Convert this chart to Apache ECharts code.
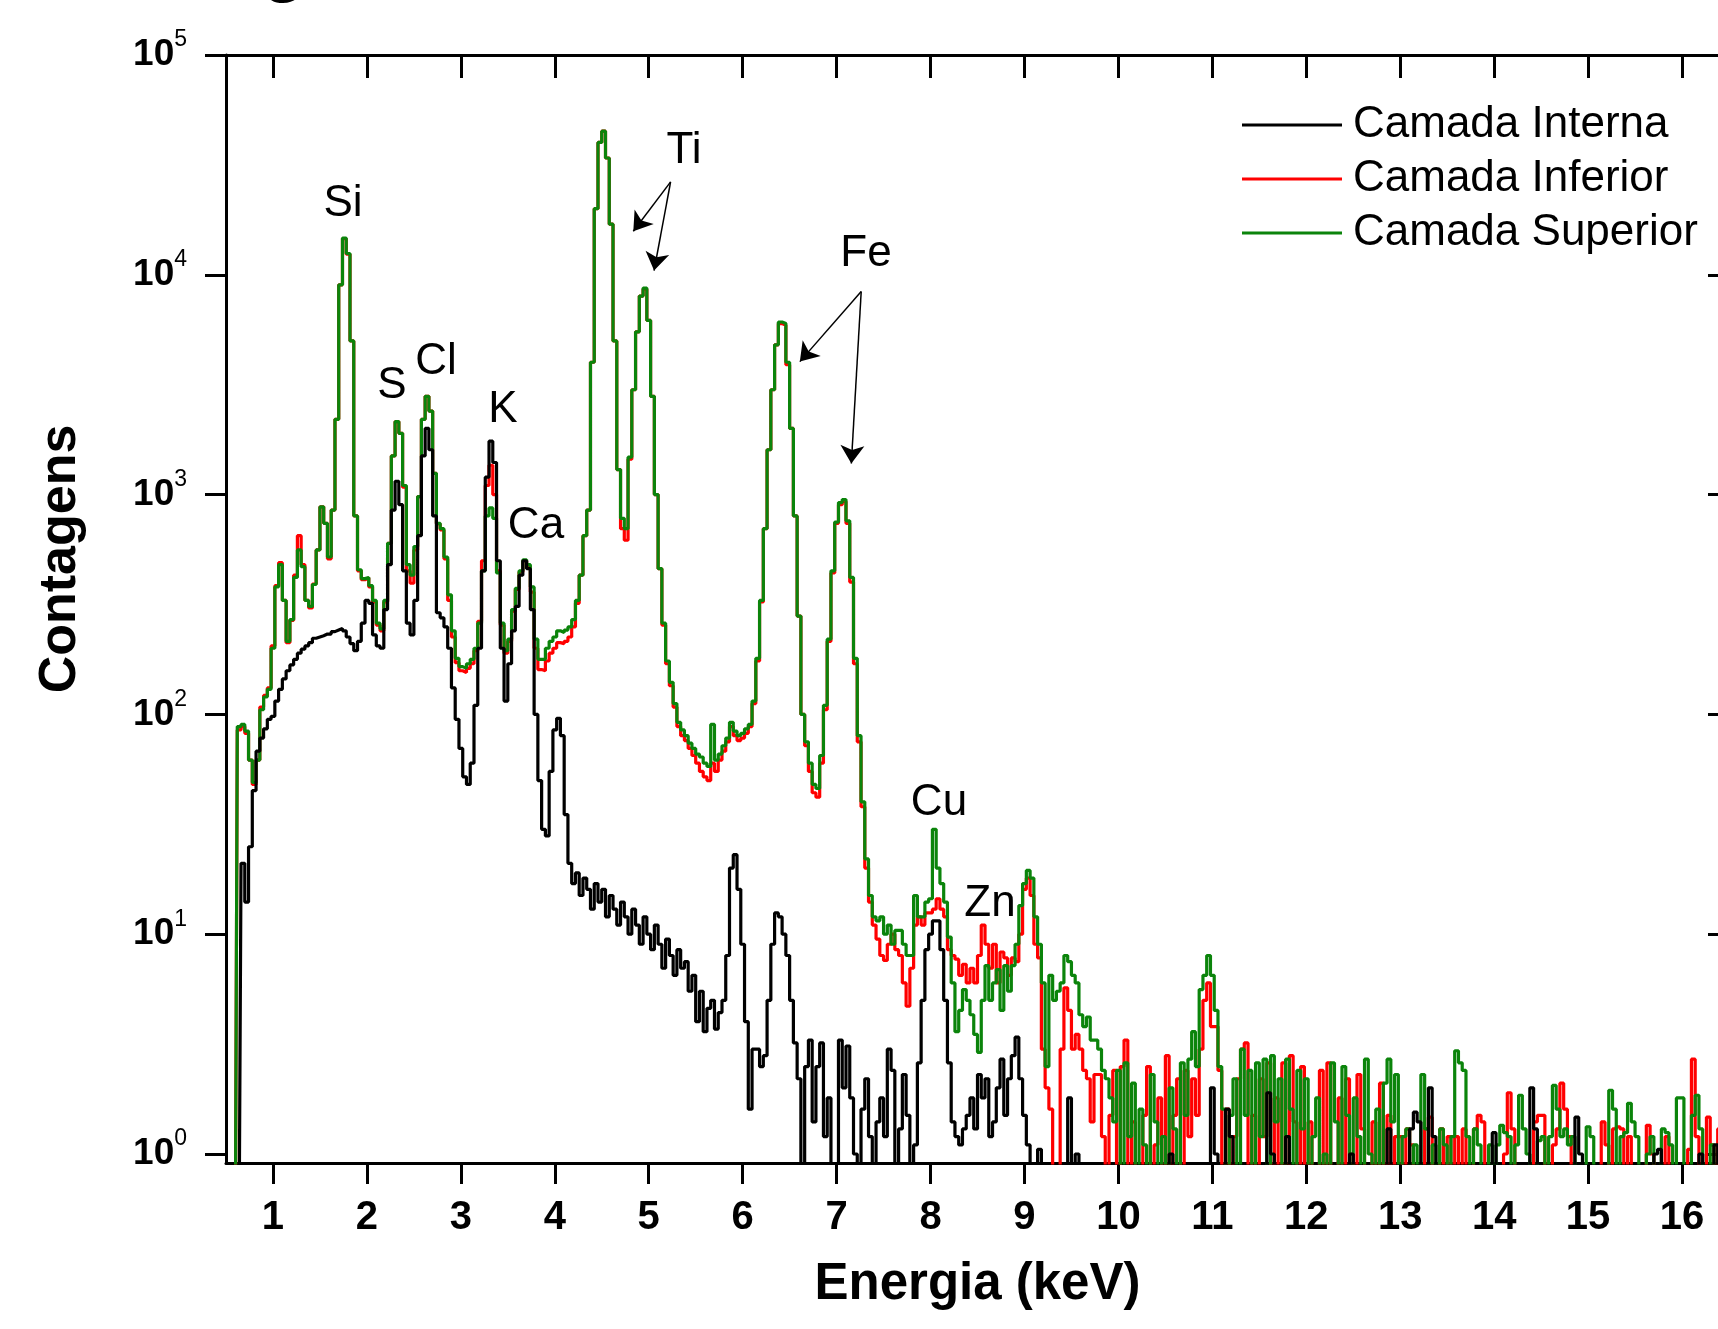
<!DOCTYPE html>
<html><head><meta charset="utf-8">
<script src="https://cdn.jsdelivr.net/npm/echarts@6/dist/echarts.min.js"></script>
<style>html,body{margin:0;padding:0;background:#fff}#chart{width:1718px;height:1329px}</style>
</head><body><div id="chart"></div>
<script>
// Channel energies (keV)
const energy = [
0.56,0.60,0.64,0.68,0.72,0.76,0.80,0.84,0.88,0.92,0.96,
1.00,1.04,1.08,1.12,1.16,1.20,1.24,1.28,1.32,1.36,1.40,1.44,1.48,1.52,1.56,1.60,1.64,1.68,1.72,1.76,1.80,1.84,1.88,1.92,1.96,
2.00,2.04,2.08,2.12,2.16,2.20,2.24,2.28,2.32,2.36,2.40,2.44,2.48,2.52,2.56,2.60,2.64,2.68,2.72,2.76,2.80,2.84,2.88,2.92,2.96,
3.00,3.04,3.08,3.12,3.16,3.20,3.24,3.28,3.32,3.36,3.40,3.44,3.48,3.52,3.56,3.60,3.64,3.68,3.72,3.76,3.80,3.84,3.88,3.92,3.96,
4.00,4.04,4.08,4.12,4.16,4.20,4.24,4.28,4.32,4.36,4.40,4.44,4.48,4.52,4.56,4.60,4.64,4.68,4.72,4.76,4.80,4.84,4.88,4.92,4.96,
5.00,5.04,5.08,5.12,5.16,5.20,5.24,5.28,5.32,5.36,5.40,5.44,5.48,5.52,5.56,5.60,5.64,5.68,5.72,5.76,5.80,5.84,5.88,5.92,5.96,
6.00,6.04,6.08,6.12,6.16,6.20,6.24,6.28,6.32,6.36,6.40,6.44,6.48,6.52,6.56,6.60,6.64,6.68,6.72,6.76,6.80,6.84,6.88,6.92,6.96,
7.00,7.04,7.08,7.12,7.16,7.20,7.24,7.28,7.32,7.36,7.40,7.44,7.48,7.52,7.56,7.60,7.64,7.68,7.72,7.76,7.80,7.84,7.88,7.92,7.96,
8.00,8.04,8.08,8.12,8.16,8.20,8.24,8.28,8.32,8.36,8.40,8.44,8.48,8.52,8.56,8.60,8.64,8.68,8.72,8.76,8.80,8.84,8.88,8.92,8.96,
9.00,9.04,9.08,9.12,9.16,9.20,9.24,9.28,9.32,9.36,9.40,9.44,9.48,9.52,9.56,9.60,9.64,9.68,9.72,9.76,9.80,9.84,9.88,9.92,9.96,
10.00,10.04,10.08,10.12,10.16,10.20,10.24,10.28,10.32,10.36,10.40,10.44,10.48,10.52,10.56,10.60,10.64,10.68,10.72,10.76,10.80,10.84,10.88,10.92,10.96,
11.00,11.04,11.08,11.12,11.16,11.20,11.24,11.28,11.32,11.36,11.40,11.44,11.48,11.52,11.56,11.60,11.64,11.68,11.72,11.76,11.80,11.84,11.88,11.92,11.96,
12.00,12.04,12.08,12.12,12.16,12.20,12.24,12.28,12.32,12.36,12.40,12.44,12.48,12.52,12.56,12.60,12.64,12.68,12.72,12.76,12.80,12.84,12.88,12.92,12.96,
13.00,13.04,13.08,13.12,13.16,13.20,13.24,13.28,13.32,13.36,13.40,13.44,13.48,13.52,13.56,13.60,13.64,13.68,13.72,13.76,13.80,13.84,13.88,13.92,13.96,
14.00,14.04,14.08,14.12,14.16,14.20,14.24,14.28,14.32,14.36,14.40,14.44,14.48,14.52,14.56,14.60,14.64,14.68,14.72,14.76,14.80,14.84,14.88,14.92,14.96,
15.00,15.04,15.08,15.12,15.16,15.20,15.24,15.28,15.32,15.36,15.40,15.44,15.48,15.52,15.56,15.60,15.64,15.68,15.72,15.76,15.80,15.84,15.88,15.92,15.96,
16.00,16.04,16.08,16.12,16.16,16.20,16.24,16.28,16.32,16.36,16.40,16.44,16.48
];
// Counts; 0.5 marks an empty channel (zero counts, drawn below the axis floor)
const interna = [
0.5,0.5,0.5,21,14,25,45,68,78,86,95,
98,115,130,145,158,168,178,190,198,205,212,222,225,228,232,232,238,242,246,240,225,210,195,215,260,
330,320,230,205,200,300,480,850,1150,900,450,260,230,330,650,1500,2000,1600,800,290,275,250,200,132,95,
70,52,48,60,110,200,450,1200,1750,1400,500,200,115,170,240,310,430,500,460,300,100,50,30,28,55,
85,96,80,35,21,17,19,15,18,16,13,17,14,16,12,15,13,11,14,12,10,13,11,9,12,
10,8.5,11,9,7,9.5,8,6.5,8.5,7,7.5,5.5,6.5,4,5.5,3.6,4.6,5,3.7,4.4,5,8,20,23,16,
9,4,1.6,3,3,2.5,2.8,5,9,12.5,12,10,8,5,3.2,2.2,0.5,2.5,3.3,1.4,2.5,3.2,1.2,1.8,0.5,
0.5,3.3,2,3.1,1.8,1,0.5,1.6,2.2,1.2,0.5,1.4,1.8,1.2,3,2.4,0.5,1.3,2.3,1.5,0.5,1.1,2.6,5,8.5,
10,11.5,11.5,8.5,5,2.6,1.4,1.2,1.1,1.3,1.5,1.8,1.3,2.3,1.8,2.2,1.2,1.4,2.0,2.7,1.5,2.2,2.8,3.4,2.2,
1.5,1.1,0.5,0.5,1.05,0.5,0.5,0.5,0.5,0.5,0.5,0.5,1.8,0.5,1.0,0.5,0.5,0.5,0.5,0.5,0.5,0.5,0.5,0.5,0.5,
0.5,0.5,0.5,0.5,0.5,0.5,0.5,0.5,0.5,0.5,0.5,0.5,0.5,0.5,1.0,0.5,0.5,0.5,0.5,0.5,0.5,0.5,0.5,0.5,0.5,
2.0,1.0,0.5,0.5,1.6,1.2,0.5,0.5,0.5,0.5,0.5,0.5,0.5,0.5,0.5,1.9,1.0,0.5,0.5,0.5,1.2,0.5,0.5,0.5,0.5,
0.5,0.5,0.5,0.5,0.5,0.5,0.5,0.5,0.5,0.5,0.5,0.5,1.0,0.5,0.5,0.5,0.5,0.5,0.5,0.5,0.5,0.5,1.3,0.5,0.5,
0.5,0.5,0.5,1.3,1.55,1.4,0.5,0.5,2.0,1.2,0.5,0.5,0.5,0.5,0.5,0.5,0.5,0.5,0.5,0.5,0.5,0.5,0.5,0.5,0.5,
1.25,0.5,0.5,0.5,0.5,0.5,0.5,0.5,0.5,0.5,2.0,1.3,0.5,0.5,0.5,0.5,0.5,0.5,0.5,0.5,0.5,0.5,1.47,1.0,0.5,
0.5,0.5,0.5,0.5,0.5,0.5,0.5,0.5,0.5,0.5,0.5,0.5,0.5,0.5,0.5,0.5,0.5,0.5,1.0,1.05,0.5,0.5,0.5,0.5,0.5,
0.5,0.5,0.5,0.5,0.5,1.0,0.5,0.5,0.5,1.1,0.5,0.5,0.5
];
const inferior = [
0.5,0.5,85,88,82,62,48,62,108,122,132,
205,385,490,330,212,268,430,650,480,330,305,392,560,880,740,510,850,2200,9000,14600,12400,5000,800,450,410,
418,380,325,255,240,325,600,1500,2150,1900,1080,450,395,560,980,2200,2800,2400,1250,735,690,510,330,225,172,
158,155,162,170,195,265,500,1100,1360,1000,450,255,190,215,295,370,445,500,470,360,200,160,158,175,190,
200,212,210,215,225,250,320,430,650,850,4000,20000,40000,45000,34000,17000,5000,1300,700,620,1450,3000,5500,8000,8600,
6200,2800,1000,460,255,170,135,108,88,80,76,70,65,60,55,52,50,60,55,62,68,75,88,80,76,
78,82,88,112,175,325,700,1600,3000,4800,6000,5900,3900,2000,800,280,100,72,55,44,42,60,105,215,440,
740,900,930,740,400,170,75,38,20,14,11,9.5,8,7.6,9,10,8.5,8,6,4.7,7,11,12,11,12.5,
12.5,13,14.5,13,12,8.5,8,7.7,6.5,7.3,6,7,6,8,11,9,7,9,6,8.3,7.8,6.5,7.8,7.5,10,
16,18,15,9,7.8,3,2,1.6,0.5,0.5,3,5.7,4.5,3,3.5,3,2.4,2.2,1.4,2.3,2.3,1.2,0.5,1.5,2.4,
0.5,2.5,3.3,0.5,1.4,0.5,0.5,1.5,2.5,0.5,1.1,1.8,0.5,2.8,0.5,1.5,2.2,0.5,2.4,1.2,2.2,1.5,3,5,6,
3.8,3.8,2.4,0.5,1.6,0.5,1.2,2.2,3.0,3.2,0.5,1.5,0.5,2.2,1.2,2.6,0.5,1.8,0.5,2.6,0.5,2.8,1.4,0.5,2.5,
0.5,1.4,0.5,0.5,2.4,0.5,2.6,0.5,0.5,1.8,0.5,2.2,1.0,0.5,2.3,1.3,0.5,0.5,1.4,0.5,2.1,0.5,1.5,0.5,1.2,
1.2,0.5,1.3,1.1,0.5,0.5,0.5,1.3,1.47,0.5,0.5,1.3,0.5,1.2,0.5,1.2,0.5,1.3,0.5,0.5,1.3,1.5,1.4,0.5,0.5,
0.5,0.5,0.5,1.0,1.9,1.3,0.5,0.5,0.5,0.5,0.5,1.4,1.5,1.5,0.5,0.5,1.1,1.3,2.1,1.6,1.2,0.5,0.5,0.5,0.5,
0.5,0.5,0.5,0.5,1.4,1.1,0.5,1.3,1.33,1.3,0.5,1.2,0.5,0.5,0.5,0.5,1.35,1.0,0.5,0.5,0.5,1.2,0.5,0.5,0.5,
0.5,0.5,1.05,2.7,1.2,0.5,0.5,1.47,1.1,0.5,1.3,0.5,1.2
];
const superior = [
0.5,0.5,88,90,84,62,49,62,105,120,130,
200,380,480,330,215,270,420,560,470,330,310,390,560,880,740,520,850,2200,9000,14700,12500,5000,800,455,415,
420,385,330,260,245,330,600,1500,2150,1900,1100,480,430,580,980,2200,2800,2400,1250,740,700,520,350,240,180,
165,162,170,178,200,260,450,800,870,780,440,260,195,220,300,375,450,505,480,380,220,178,178,200,215,
225,240,236,242,250,270,330,430,650,850,4000,20000,40000,45000,34000,17000,5000,1300,780,700,1480,3000,5500,8000,8700,
6200,2800,1000,460,260,175,140,112,92,85,80,74,70,66,64,60,58,90,62,66,72,78,92,84,80,
82,86,90,115,180,330,700,1600,3000,4800,6100,6000,4000,2000,800,280,100,75,60,48,46,65,110,220,450,
750,920,950,760,420,180,80,40,22,15,12,11.5,12,10,11,9,10.4,10.4,9,8,8,15,12,12,14,
14.5,30,20,17,14,9.7,6,3.6,4.5,5.6,5,4.3,3.5,2.9,5,7.2,5,6,6.9,4.5,7.2,5.5,7.2,9,13.5,
17,19.5,18,12,9,6,2.5,6.5,5,5.5,6,8,7.5,6.5,6,4.3,3.8,4.2,3.3,3.3,3,2.4,2.2,1.8,1.4,
2.4,0.5,2.6,1.2,2.1,0.5,1.6,1.1,0.5,2.3,1.4,0.5,1.2,0.5,2.0,1.3,0.5,2.6,1.5,2.7,3.6,2.5,5.6,6.5,8,
6.5,4.5,2.5,1.6,0.5,1.5,2.2,0.5,3.0,1.5,2.4,0.5,2.6,1.2,2.7,0.5,2.8,1.4,2.2,0.5,2.7,1.6,0.5,2.4,1.3,
2.2,0.5,1.2,1.8,0.5,1.0,0.5,2.6,1.4,0.5,2.5,1.5,0.5,1.8,1.2,0.5,2.7,1.0,0.5,1.6,0.5,2.1,2.7,1.4,2.3,
0.5,1.2,1.3,0.5,1.1,0.5,2.3,1.3,0.5,1.1,0.5,1.3,1.1,0.5,1.2,2.95,2.6,2.4,1.2,0.5,1.3,1.1,0.5,0.5,1.1,
0.5,1.1,1.35,1.25,1.2,0.5,1.1,1.85,1.3,1.0,0.5,0.5,1.15,1.2,0.5,1.2,2.05,1.6,1.2,1.3,1.1,1.2,0.5,0.5,0.5,
1.33,1.2,0.5,0.5,0.5,0.5,1.95,1.6,0.5,1.2,1.25,1.7,1.4,1.2,0.5,0.5,1.0,1.2,0.5,0.5,1.3,1.25,1.1,0.5,1.8,
1.8,0.5,0.5,1.5,1.85,1.3,0.5,0.5,1.1,0.5,0.5,1.2,0.5
];
const seriesNames = ['Camada Interna','Camada Inferior','Camada Superior'];
const xTicks = [1,2,3,4,5,6,7,8,9,10,11,12,13,14,15,16];
const yTicks = [1,10,100,1000,10000,100000];
// Peak annotations (energy keV, counts)
const peakNames  = ['Si','S','Cl','K','Ca','Ti','Fe','Cu','Zn'];
const peakEnergy = [1.745,2.267,2.735,3.449,3.80,5.375,7.313,8.09,8.633];
const peakCounts = [21000,3120,4010,2427,720,36560,12450,39.5,13.7];
const arrowFrom = [[5.233,26470],[5.233,26470],[7.262,8395],[7.262,8395]];
const arrowTo   = [[4.836,15790],[5.057,10450],[6.609,4027],[7.157,1385]];

const FONT = '"Liberation Sans", Arial, sans-serif';
const pairs = ys => energy.map((e, i) => [e, ys[i]]);
const lineSeries = (name, ys, color, z) => ({
  name, type: 'line', data: pairs(ys), step: 'middle', symbol: 'none', showSymbol: false,
  clip: true, z, lineStyle: { color, width: 3.2 }, itemStyle: { color },
  emphasis: { disabled: true }
});
const axisLineStyle = { color: '#000', width: 3 };

const chart = echarts.init(document.getElementById('chart'), null, { renderer: 'canvas' });
chart.setOption({
  animation: false,
  backgroundColor: '#fff',
  grid: { left: 226, right: -11, top: 55, bottom: 166, containLabel: false, outerBoundsMode: 'none' },
  legend: {
    data: seriesNames, orient: 'vertical', left: 1237, top: 98,
    icon: 'rect', itemWidth: 100, itemHeight: 3, itemGap: 10, selectedMode: false,
    textStyle: { fontSize: 44, lineHeight: 44, color: '#000', fontFamily: FONT, padding: [0, 0, 0, 6] }
  },
  graphic: [{
    type: 'text', silent: true,
    style: { x: 284, y: -68, text: 'g', textAlign: 'center', textVerticalAlign: 'top', font: 'bold 72px "Liberation Sans", Arial, sans-serif', fill: '#000' }
  }],
  xAxis: [{
    type: 'value', min: 0.5, max: 16.5, position: 'bottom',
    axisLine: { show: true, onZero: false, lineStyle: axisLineStyle },
    axisTick: { show: true, inside: false, length: 21, lineStyle: axisLineStyle, customValues: xTicks },
    axisLabel: { show: true, margin: 35, customValues: xTicks, fontSize: 40, lineHeight: 40, fontWeight: 'bold', color: '#000', fontFamily: FONT },
    splitLine: { show: false },
    name: 'Energia (keV)', nameLocation: 'middle', nameGap: 96,
    nameTextStyle: { fontSize: 51, lineHeight: 51, fontWeight: 'bold', color: '#000', fontFamily: FONT }
  }, {
    type: 'value', min: 0.5, max: 16.5, position: 'top',
    axisLine: { show: true, onZero: false, lineStyle: axisLineStyle },
    axisTick: { show: true, inside: true, length: 23, lineStyle: axisLineStyle, customValues: xTicks },
    axisLabel: { show: false }, splitLine: { show: false }
  }],
  yAxis: [{
    type: 'log', logBase: 10, min: 0.91, max: 100000, position: 'left',
    axisLine: { show: true, onZero: false, lineStyle: axisLineStyle },
    axisTick: { show: true, inside: false, length: 21, lineStyle: axisLineStyle, customValues: yTicks },
    minorTick: { show: false },
    axisLabel: {
      show: true, margin: 39, customValues: yTicks,
      formatter: v => '{b|10}{s|' + Math.round(Math.log10(v)) + '}',
      rich: {
        b: { fontSize: 37, lineHeight: 53, fontWeight: 'bold', color: '#000', fontFamily: FONT },
        s: { fontSize: 23, lineHeight: 23, verticalAlign: 'top', color: '#000', fontFamily: FONT }
      }
    },
    splitLine: { show: false },
    name: 'Contagens', nameLocation: 'middle', nameGap: 139, nameRotate: 90,
    nameTextStyle: { fontSize: 52, lineHeight: 52, fontWeight: 'bold', color: '#000', fontFamily: FONT, padding: [0, 0, 0, 100] }
  }, {
    type: 'log', logBase: 10, min: 0.91, max: 100000, position: 'right',
    axisLine: { show: true, onZero: false, lineStyle: axisLineStyle },
    axisTick: { show: true, inside: true, length: 21, lineStyle: axisLineStyle, customValues: yTicks },
    minorTick: { show: false },
    axisLabel: { show: false }, splitLine: { show: false }
  }],
  series: [
    lineSeries('Camada Inferior', inferior, '#ff0000', 2),
    lineSeries('Camada Superior', superior, '#0b840b', 3),
    lineSeries('Camada Interna', interna, '#000000', 4),
    {
      name: 'annotations', type: 'scatter', silent: true, z: 10,
      symbolSize: 0.1, itemStyle: { color: '#000', opacity: 1 },
      data: peakNames.map((n, i) => [peakEnergy[i], peakCounts[i], n]),
      label: { show: true, position: 'inside', formatter: p => p.data[2], fontSize: 44, color: '#000', opacity: 1, textBorderWidth: 0, fontFamily: FONT },
      markLine: {
        silent: true, symbol: ['none', 'arrow'], symbolSize: 18, animation: false,
        lineStyle: { color: '#000', width: 1.5, type: 'solid', opacity: 1 }, label: { show: false },
        emphasis: { disabled: true },
        data: arrowFrom.map((f, i) => [{ coord: f }, { coord: arrowTo[i] }])
      }
    }
  ]
});
</script></body></html>
